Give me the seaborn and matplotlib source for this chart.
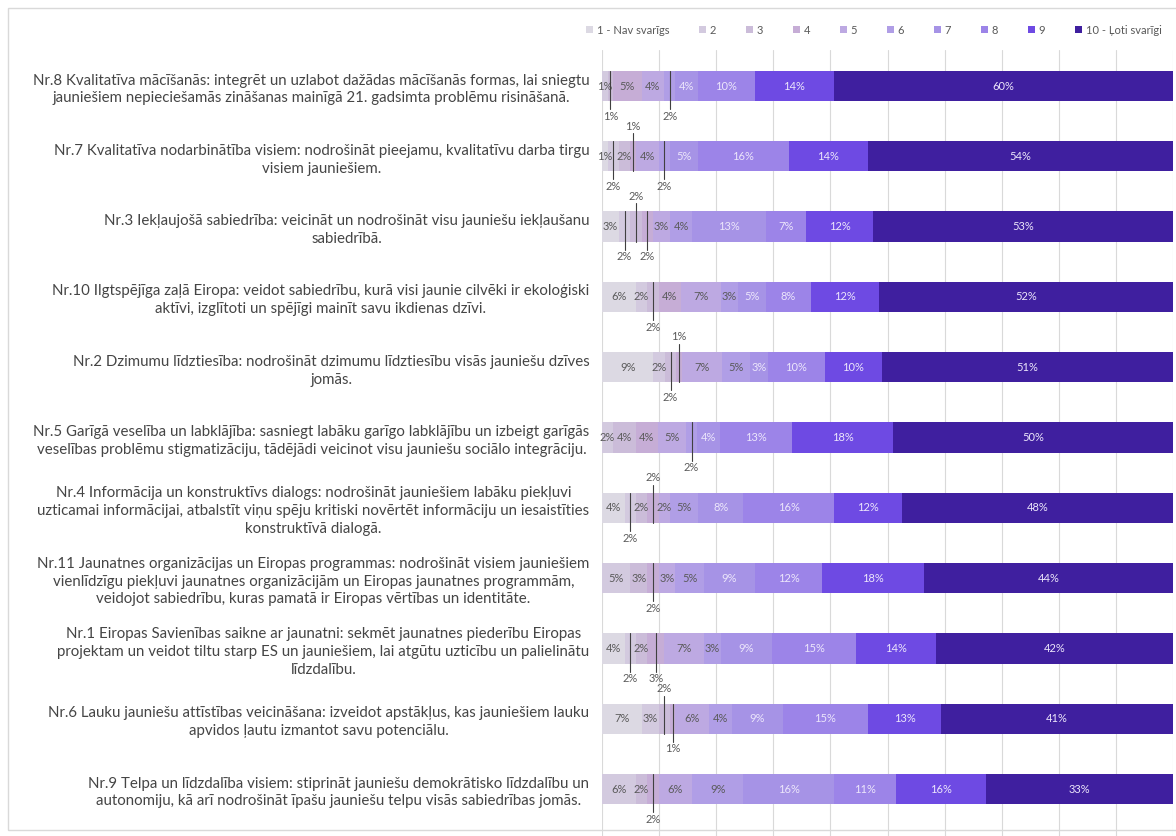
import numpy as np
import pandas as pd
import matplotlib
matplotlib.use("Agg")
import matplotlib.pyplot as plt
import seaborn as sns
from matplotlib.patches import Patch, Rectangle

sns.set_theme(style="white")
plt.rcParams["font.family"] = ["Lato", "DejaVu Sans"]

# ---------------- data ----------------
levels = ["1 - Nav svarīgs", "2", "3", "4", "5", "6", "7", "8", "9", "10 - Ļoti svarīgi"]

priorities = [
    "Nr.8 Kvalitatīva mācīšanās: integrēt un uzlabot dažādas mācīšanās formas, lai sniegtu\njauniešiem nepieciešamās zināšanas mainīgā 21. gadsimta problēmu risināšanā.",
    "Nr.7 Kvalitatīva nodarbinātība visiem: nodrošināt pieejamu, kvalitatīvu darba tirgu\nvisiem jauniešiem.",
    "Nr.3 Iekļaujošā sabiedrība: veicināt un nodrošināt visu jauniešu iekļaušanu\nsabiedrībā.",
    "Nr.10 Ilgtspējīga zaļā Eiropa: veidot sabiedrību, kurā visi jaunie cilvēki ir ekoloģiski\naktīvi, izglītoti un spējīgi mainīt savu ikdienas dzīvi.",
    "Nr.2 Dzimumu līdztiesība: nodrošināt dzimumu līdztiesību visās jauniešu dzīves\njomās.",
    "Nr.5 Garīgā veselība un labklājība: sasniegt labāku garīgo labklājību un izbeigt garīgās\nveselības problēmu stigmatizāciju, tādējādi veicinot visu jauniešu sociālo integrāciju.",
    "Nr.4 Informācija un konstruktīvs dialogs: nodrošināt jauniešiem labāku piekļuvi\nuzticamai informācijai, atbalstīt viņu spēju kritiski novērtēt informāciju un iesaistīties\nkonstruktīvā dialogā.",
    "Nr.11 Jaunatnes organizācijas un Eiropas programmas: nodrošināt visiem jauniešiem\nvienlīdzīgu piekļuvi jaunatnes organizācijām un Eiropas jaunatnes programmām,\nveidojot sabiedrību, kuras pamatā ir Eiropas vērtības un identitāte.",
    "Nr.1 Eiropas Savienības saikne ar jaunatni: sekmēt jaunatnes piederību Eiropas\nprojektam un veidot tiltu starp ES un jauniešiem, lai atgūtu uzticību un palielinātu\nlīdzdalību.",
    "Nr.6 Lauku jauniešu attīstības veicināšana: izveidot apstākļus, kas jauniešiem lauku\napvidos ļautu izmantot savu potenciālu.",
    "Nr.9 Telpa un līdzdalība visiem: stiprināt jauniešu demokrātisko līdzdalību un\nautonomiju, kā arī nodrošināt īpašu jauniešu telpu visās sabiedrības jomās.",
]

# percentages per level 1..10
nr8 = [0, 1, 1, 5, 4, 2, 4, 10, 14, 60]
nr7 = [1, 2, 2, 1, 4, 2, 5, 16, 14, 54]
nr3 = [3, 2, 2, 2, 3, 4, 13, 7, 12, 53]
nr10 = [6, 2, 2, 4, 7, 3, 5, 8, 12, 52]
nr2 = [9, 2, 2, 1, 7, 5, 3, 10, 10, 51]
nr5 = [0, 2, 4, 4, 5, 2, 4, 13, 18, 50]
nr4 = [4, 2, 2, 2, 2, 5, 8, 16, 12, 48]
nr11 = [0, 5, 3, 2, 3, 5, 9, 12, 18, 44]
nr1 = [4, 2, 2, 3, 7, 3, 9, 15, 14, 42]
nr6 = [7, 3, 2, 1, 6, 4, 9, 15, 13, 41]
nr9 = [0, 6, 2, 2, 6, 9, 16, 11, 16, 33]

rows = [nr8, nr7, nr3, nr10, nr2, nr5, nr4, nr11, nr1, nr6, nr9]

# small-segment labels placed outside the bar: (row, level index) -> side
callouts = {
    (0, 2): "below", (0, 5): "below",
    (1, 1): "below", (1, 3): "above", (1, 5): "below",
    (2, 1): "below", (2, 2): "above", (2, 3): "below",
    (3, 2): "below",
    (4, 2): "below", (4, 3): "above",
    (5, 5): "below",
    (6, 1): "below", (6, 3): "above",
    (7, 3): "below",
    (8, 1): "below", (8, 3): "below",
    (9, 2): "above", (9, 3): "below",
    (10, 3): "below",
}

colors = ["#dcd9e3", "#d3cadf", "#cbbcd9", "#c6add6", "#bda9e2",
          "#b09ee6", "#a693e6", "#9c84e8", "#6e4ae3", "#3f1f9f"]

df = pd.DataFrame(rows, columns=levels)
df.insert(0, "priority", priorities)
vals = df[levels].to_numpy(dtype=float)
share = vals / vals.sum(axis=1, keepdims=True) * 100
cum = np.cumsum(share, axis=1)

# ---------------- figure ----------------
W, H = 1176, 836
fig = plt.figure(figsize=(W / 100, H / 100), dpi=100)
fig.patch.set_facecolor("white")

ax_left, ax_right, ax_top = 602, 1173, 50
ax = fig.add_axes([ax_left / W, 0, (ax_right - ax_left) / W, (H - ax_top) / H])

bar_h = 0.43
for k in range(len(levels) - 1, -1, -1):
    sns.barplot(x=cum[:, k], y=df["priority"], orient="h", color=colors[k],
                saturation=1, width=bar_h, ax=ax, zorder=2,
                linewidth=0, edgecolor="none")

row0, step = 86, 70.3
ax.set_xlim(0, 100)
ax.set_ylim(10 + (H - (row0 + 10 * step)) / step, -(row0 - ax_top) / step)
ax.set_xticks(np.arange(0, 101, 10))
ax.set_xticklabels([])
ax.xaxis.grid(True, color="#d9d9d9", lw=0.8, zorder=0)
ax.set_axisbelow(True)
for s in ax.spines.values():
    s.set_visible(False)
ax.set_xlabel("")
ax.set_ylabel("")
ax.tick_params(axis="y", length=0, pad=9)
ax.tick_params(axis="x", length=0)
for t in ax.get_yticklabels():
    t.set_multialignment("center")
    t.set_fontsize(10.8)
    t.set_color("#454545")
    t.set_linespacing(1.35)

# data labels
for i in range(len(rows)):
    left = 0.0
    for k in range(len(levels)):
        v = vals[i, k]
        w = share[i, k]
        c = left + w / 2
        left += w
        if v == 0:
            continue
        txt = f"{int(v)}%"
        tcol = "#5a5a5a" if k < 6 else "#ece6fb"
        side = callouts.get((i, k))
        if side is None:
            ax.text(c, i, txt, ha="center", va="center", fontsize=8,
                    color=tcol, zorder=5)
        else:
            if side == "below":
                ty = i + 0.43
                ax.plot([c, c], [i - bar_h / 2, ty - 0.1], color="#404040",
                        lw=0.8, zorder=6)
            else:
                ty = i - 0.43
                ax.plot([c, c], [i + bar_h / 2, ty + 0.1], color="#404040",
                        lw=0.8, zorder=6)
            ax.text(c, ty, txt, ha="center", va="center", fontsize=8,
                    color="#5a5a5a", zorder=6)

# legend
handles = [Patch(facecolor=c, edgecolor="none") for c in colors]
fig.legend(handles, levels, loc="center", bbox_to_anchor=(874 / W, 1 - 30 / H),
           ncol=10, frameon=False, fontsize=8, handlelength=0.6,
           handleheight=0.6, handletextpad=0.35, columnspacing=2.7,
           labelcolor="#595959")

# chart frame
fig.patches.append(Rectangle((8 / W, 6 / H), 1.0, (H - 14) / H,
                             transform=fig.transFigure, fill=False,
                             edgecolor="#d9d9d9", lw=1))

fig.savefig("out.png", dpi=100, facecolor="white")
